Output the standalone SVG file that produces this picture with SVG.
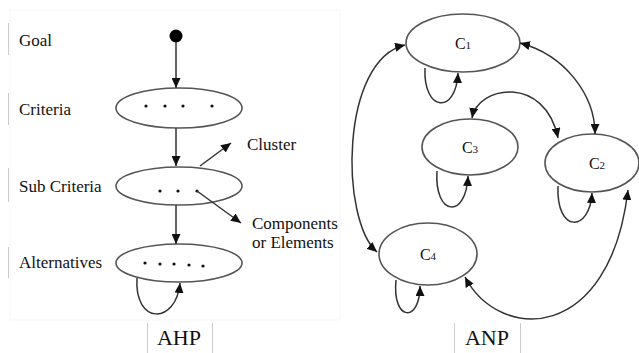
<svg xmlns="http://www.w3.org/2000/svg" width="639" height="353" viewBox="0 0 639 353">
<style>
.t{font-family:'Liberation Serif','Times New Roman','DejaVu Serif',serif;fill:#111}
.lbl{font-size:17px}
.big{font-size:22px}
.cn{font-size:16px}
.sub{font-size:11px}
.node{fill:#fff;stroke:#555;stroke-width:1.6}
.edge{fill:none;stroke:#333;stroke-width:1.5}
.bar{stroke:#ccc;stroke-width:1}
.dot{fill:#111}
</style>
<defs>
<marker id="ah" markerUnits="userSpaceOnUse" markerWidth="10" markerHeight="9" refX="10" refY="4.5" orient="auto-start-reverse">
<path d="M0,0 L10,4.5 L0,9 z" fill="#111"/>
</marker>
</defs>
<rect x="10" y="10" width="330" height="310" fill="none" stroke="#f7f7f7" stroke-width="1"/>
<g id="labels" font-family="Liberation Serif, Times New Roman, serif">
<line class="bar" x1="8.5" y1="23" x2="8.5" y2="55"/>
<text class="t lbl" x="19" y="46">Goal</text>
<line class="bar" x1="8.5" y1="93" x2="8.5" y2="125"/>
<text class="t lbl" x="19" y="115">Criteria</text>
<line class="bar" x1="8.5" y1="168" x2="8.5" y2="202"/>
<text class="t lbl" x="19" y="192">Sub Criteria</text>
<line class="bar" x1="8.5" y1="247" x2="8.5" y2="278"/>
<text class="t lbl" x="19" y="268">Alternatives</text>
<line class="bar" x1="147.5" y1="323" x2="147.5" y2="353"/>
<line class="bar" x1="212.5" y1="323" x2="212.5" y2="353"/>
<text class="t big" x="179" y="345" text-anchor="middle">AHP</text>
<line class="bar" x1="454.5" y1="323" x2="454.5" y2="353"/>
<line class="bar" x1="520.5" y1="323" x2="520.5" y2="353"/>
<text class="t big" x="487" y="345" text-anchor="middle">ANP</text>
<text class="t lbl" x="247" y="150">Cluster</text>
<text class="t lbl" x="252" y="229">Components</text>
<text class="t lbl" x="252" y="248">or Elements</text>
</g>
<g id="goal"><circle cx="176" cy="36" r="6.5" fill="#000"/></g>
<g id="criteria">
<ellipse class="node" cx="179" cy="108" rx="63" ry="20"/>
<circle class="dot" cx="146" cy="106" r="1.6"/><circle class="dot" cx="165" cy="106" r="1.6"/><circle class="dot" cx="183" cy="106" r="1.6"/><circle class="dot" cx="212" cy="106" r="1.6"/>
</g>
<g id="subcriteria">
<ellipse class="node" cx="179" cy="186" rx="63" ry="19"/>
<circle class="dot" cx="160" cy="191" r="1.6"/><circle class="dot" cx="178" cy="191" r="1.6"/><circle class="dot" cx="197" cy="191" r="1.6"/>
</g>
<g id="alternatives">
<ellipse class="node" cx="179" cy="263" rx="63" ry="19"/>
<circle class="dot" cx="145" cy="263" r="1.6"/><circle class="dot" cx="160" cy="264" r="1.6"/><circle class="dot" cx="174" cy="264" r="1.6"/><circle class="dot" cx="189" cy="265" r="1.6"/><circle class="dot" cx="203" cy="266" r="1.6"/>
</g>
<g id="c1" font-family="Liberation Serif, Times New Roman, serif"><ellipse class="node" cx="463" cy="43" rx="57" ry="29"/><text class="t cn" x="463" y="49" text-anchor="middle">C<tspan class="sub">1</tspan></text></g>
<g id="c3" font-family="Liberation Serif, Times New Roman, serif"><ellipse class="node" cx="470" cy="147" rx="48" ry="28"/><text class="t cn" x="470" y="153" text-anchor="middle">C<tspan class="sub">3</tspan></text></g>
<g id="c2" font-family="Liberation Serif, Times New Roman, serif"><ellipse class="node" cx="592" cy="163" rx="47" ry="29"/><text class="t cn" x="597" y="169" text-anchor="middle">C<tspan class="sub">2</tspan></text></g>
<g id="c4" font-family="Liberation Serif, Times New Roman, serif"><ellipse class="node" cx="428" cy="254" rx="49" ry="31"/><text class="t cn" x="428" y="260" text-anchor="middle">C<tspan class="sub">4</tspan></text></g>
<g id="connectors">
<path class="edge" d="M176,42 L176,88" marker-end="url(#ah)"/>
<path class="edge" d="M176,128 L176,166" marker-end="url(#ah)"/>
<path class="edge" d="M200,166 L231,143" marker-end="url(#ah)"/>
<path class="edge" d="M197,191 L241,223" marker-end="url(#ah)"/>
<path class="edge" d="M176,205 L176,244" marker-end="url(#ah)"/>
<path class="edge" d="M137,278 C134,325 176,325 180,283" marker-end="url(#ah)"/>
<path class="edge" d="M425,68 C423,112 456,115 458,73" marker-end="url(#ah)"/>
<path class="edge" d="M437,171 C434,216 466,220 468,176" marker-end="url(#ah)"/>
<path class="edge" d="M558,186 C556,234 590,232 592,193" marker-end="url(#ah)"/>
<path class="edge" d="M396,280 C392,322 420,323 420,286" marker-end="url(#ah)"/>
<path class="edge" d="M405,45 C340,60 340,220 377,252" marker-start="url(#ah)" marker-end="url(#ah)"/>
<path class="edge" d="M520,43 C565,55 595,95 595,134" marker-start="url(#ah)" marker-end="url(#ah)"/>
<path class="edge" d="M472,118 C478,85 545,75 558,138" marker-start="url(#ah)" marker-end="url(#ah)"/>
<path class="edge" d="M465,277 C500,343 610,343 628,190" marker-start="url(#ah)" marker-end="url(#ah)"/>
</g>
</svg>
